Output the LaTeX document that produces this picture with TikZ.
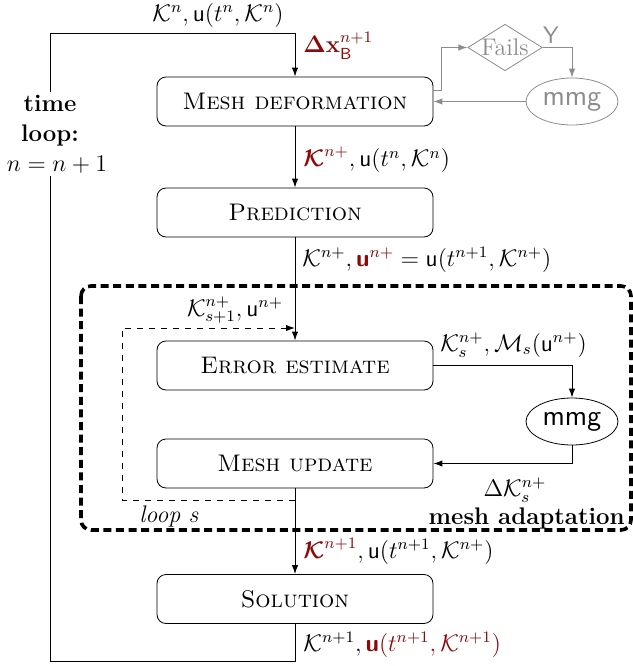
\documentclass[tikz,border=0pt]{standalone}
\usepackage{amsmath,bm}
\usetikzlibrary{shapes.geometric,arrows.meta}
\definecolor{dred}{RGB}{140,10,10}
\definecolor{lgray}{RGB}{140,140,140}
\newcommand{\Kc}{\mathcal{K}}
\newcommand{\uu}{\mathsf{u}}
\newcommand{\ub}{\textsf{\textbf{u}}}
\begin{document}
\begin{tikzpicture}[x=0.5pt,y=-0.5pt,
  >={Latex[length=4.5pt,width=3.2pt]},
  proc/.style={draw, rounded corners=4.5pt, minimum width=138pt, minimum height=24.5pt, font=\large\scshape, inner sep=0pt},
  blob/.style={draw, ellipse, minimum width=46pt, minimum height=23.5pt, font=\Large\sffamily, inner sep=0pt},
  lab/.style={font=\large, inner sep=0pt},
  conn/.style={->, line width=0.5pt}]
\useasboundingbox (0,0) rectangle (633,666);

% boxes
\node[proc] (md) at (295,101.5) {Mesh deformation};
\node[proc] (pr) at (295,212.5) {Prediction};
\node[proc] (ee) at (295,365.5) {Error estimate};
\node[proc] (mu) at (295,463.5) {Mesh update};
\node[proc] (so) at (295,599) {Solution};
\node[blob] (mmg) at (572,421.5) {mmg};
\node[blob, draw=lgray, text=lgray] (mmgz) at (572,101.5) {mmg};
\node[diamond, draw=lgray, text=lgray, font=\large, inner sep=0pt, aspect=1.6,
      minimum width=36pt, minimum height=23pt] (fails) at (505,47.5) {Fails};

% mesh adaptation frame
\draw[line width=1.8pt, dash pattern=on 4pt off 2.3pt, rounded corners=5pt] (81,286) rectangle (631,530);

% time loop
\coordinate (tl1) at (295,33);
\coordinate (tl2) at (50,33);
\coordinate (tl3) at (50,661);
\coordinate (tl4) at (295,661);
\draw[conn] (tl2) -- (tl1) -- (md.north);
\draw (so.south) -- (tl4) -- (tl3) -- (tl2);
\node[font=\large, fill=white, align=center, inner sep=1.5pt] (tloop) at (50,134)
  {\textbf{time}\\[1pt] \textbf{loop:}\\[1pt] \hspace*{7pt}$n=n+1$};

% main chain
\draw[conn] (md) -- (pr);
\draw[conn] (pr) -- (ee);
\draw[conn] (mu) -- (so);

% adaptation loop
\draw[conn] (ee.east) -| (mmg.north);
\draw[conn] (mmg.south) |- (mu.east);
\coordinate (lsA) at (295,500);
\coordinate (lsB) at (295,328);
\draw[conn, dashed] (lsA) -| (122,328) -- (lsB);

% failure branch
\coordinate (fa) at (441,90);
\draw[conn, lgray] (md.east |- fa) -- (fa) |- (fails.west);
\draw[conn, lgray] (fails.east) -| (mmgz.north);
\draw[conn, lgray] (mmgz.west) -- (md.east);

% labels
\node[lab] (l0) at (218,15) {$\Kc^n, \uu(t^n,\Kc^n)$};
\node[lab, anchor=west, text=dred] (l1) at (303,46) {$\bm{\Delta}\mathbf{x}_{\textsf{B}}^{n+1}$};
\node[lab, text=lgray] (ly) at (551,35) {\textsf{Y}};
\node[lab, anchor=west] (l2) at (303,160) {$\textcolor{dred}{\bm{\Kc}^{n+}}, \uu(t^n,\Kc^n)$};
\node[lab, anchor=west] (l3) at (302,260) {$\Kc^{n+}, \textcolor{dred}{\ub^{n+}} = \uu(t^{n+1},\Kc^{n+})$};
\node[lab] (l4) at (235,310) {$\Kc^{n+}_{s+1}, \uu^{n+}$};
\node[lab, anchor=west] (l5) at (440,345) {$\Kc^{n+}_{s}, \mathcal{M}_s(\uu^{n+})$};
\node[lab] (l6) at (515,490) {$\Delta\Kc^{n+}_{s}$};
\node[lab] (l7) at (169,516) {\textit{loop s}};
\node[lab, anchor=east] (l8) at (625,518) {\textbf{mesh adaptation}};
\node[lab, anchor=west] (l9) at (303,551) {$\textcolor{dred}{\bm{\Kc}^{n+1}}, \uu(t^{n+1},\Kc^{n+})$};
\node[lab, anchor=west] (l10) at (303,645) {$\Kc^{n+1}, \textcolor{dred}{\ub(t^{n+1},\Kc^{n+1})}$};
\end{tikzpicture}
\end{document}
